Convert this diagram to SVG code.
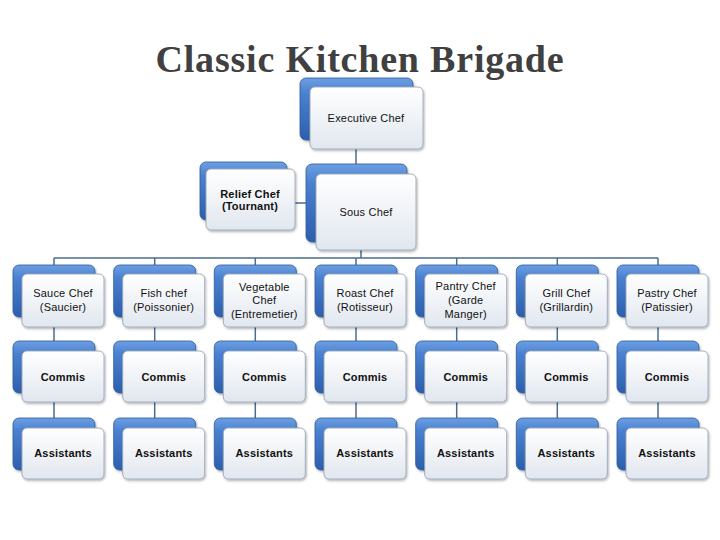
<svg xmlns="http://www.w3.org/2000/svg" width="720" height="540" viewBox="0 0 720 540">
<defs>
<linearGradient id="gBlue" x1="0" y1="0" x2="0" y2="1">
<stop offset="0" stop-color="#6c9fe2"/>
<stop offset="0.25" stop-color="#4a80d0"/>
<stop offset="1" stop-color="#2c5fac"/>
</linearGradient>
<linearGradient id="gFront" x1="0" y1="0" x2="0" y2="1">
<stop offset="0" stop-color="#ffffff"/>
<stop offset="1" stop-color="#e1e7ef"/>
</linearGradient>
<filter id="sh" x="-10%" y="-10%" width="125%" height="130%">
<feDropShadow dx="1" dy="1.5" stdDeviation="1.2" flood-color="#000" flood-opacity="0.3"/>
</filter>
<style>
.back{fill:url(#gBlue);stroke:#2e5a9a;stroke-width:0.8;filter:url(#sh)}
.front{fill:url(#gFront);stroke:#9aa7b8;stroke-width:0.9;filter:url(#sh)}
.lbl{font-family:"Liberation Sans",Arial,sans-serif;font-size:11px;fill:#111;text-anchor:middle;letter-spacing:0.2px}
.b{font-weight:bold}
.conn{stroke:#4b6d8f;stroke-width:1.5;fill:none}
.title{font-family:"Liberation Serif","Times New Roman",serif;font-size:38px;font-weight:bold;fill:#404040;text-anchor:middle;letter-spacing:0.8px}
</style>
</defs>
<text class="title" x="360" y="72">Classic Kitchen Brigade</text>
<g id="connectors">
<path class="conn" d="M356 149V164M295 203H306M361 250V258M54 258H658"/>
<path class="conn" d="M54 258V265M154.7 258V265M255.3 258V265M356 258V265M456.7 258V265M557.3 258V265M658 258V265"/>
<path class="conn" d="M54 327V341M154.7 327V341M255.3 327V341M356 327V341M456.7 327V341M557.3 327V341M658 327V341"/>
<path class="conn" d="M54 402V418M154.7 402V418M255.3 402V418M356 402V418M456.7 402V418M557.3 402V418M658 402V418"/>
</g>
<g id="executive-chef"><rect class="back" x="300" y="78" width="113" height="62" rx="6"/><rect class="front" x="310" y="87" width="113" height="62" rx="5"/><text class="lbl" x="366" y="122" letter-spacing="0.4">Executive Chef</text></g>
<g id="relief-chef"><rect class="back" x="200" y="162" width="87" height="58" rx="6"/><rect class="front" x="206" y="169" width="89" height="61" rx="5"/><text class="lbl b" x="250" y="198" font-size="9.5" letter-spacing="0">Relief Chef</text><text class="lbl b" x="250" y="210" font-size="9.5" letter-spacing="0">(Tournant)</text></g>
<g id="sous-chef"><rect class="back" x="306" y="164" width="101" height="78" rx="6"/><rect class="front" x="316" y="174" width="100" height="76" rx="5"/><text class="lbl" x="366" y="216">Sous Chef</text></g>
<g id="sauce-chef"><rect class="back" x="13" y="265" width="82" height="52" rx="6"/><rect class="front" x="22" y="274" width="82" height="53" rx="5"/><text class="lbl" x="63" y="297">Sauce Chef</text><text class="lbl" x="63" y="311">(Saucier)</text></g>
<g id="fish-chef"><rect class="back" x="113.7" y="265" width="82" height="52" rx="6"/><rect class="front" x="122.7" y="274" width="82" height="53" rx="5"/><text class="lbl" x="163.7" y="297">Fish chef</text><text class="lbl" x="163.7" y="311">(Poissonier)</text></g>
<g id="vegetable-chef"><rect class="back" x="214.3" y="265" width="82" height="52" rx="6"/><rect class="front" x="223.3" y="274" width="82" height="53" rx="5"/><text class="lbl" x="264.3" y="291">Vegetable</text><text class="lbl" x="264.3" y="304">Chef</text><text class="lbl" x="264.3" y="318">(Entremetier)</text></g>
<g id="roast-chef"><rect class="back" x="315" y="265" width="82" height="52" rx="6"/><rect class="front" x="324" y="274" width="82" height="53" rx="5"/><text class="lbl" x="365" y="297">Roast Chef</text><text class="lbl" x="365" y="311">(Rotisseur)</text></g>
<g id="pantry-chef"><rect class="back" x="415.7" y="265" width="82" height="52" rx="6"/><rect class="front" x="424.7" y="274" width="82" height="53" rx="5"/><text class="lbl" x="465.7" y="290">Pantry Chef</text><text class="lbl" x="465.7" y="304">(Garde</text><text class="lbl" x="465.7" y="318">Manger)</text></g>
<g id="grill-chef"><rect class="back" x="516.3" y="265" width="82" height="52" rx="6"/><rect class="front" x="525.3" y="274" width="82" height="53" rx="5"/><text class="lbl" x="566.3" y="297">Grill Chef</text><text class="lbl" x="566.3" y="311">(Grillardin)</text></g>
<g id="pastry-chef"><rect class="back" x="617" y="265" width="82" height="52" rx="6"/><rect class="front" x="626" y="274" width="82" height="53" rx="5"/><text class="lbl" x="667" y="297">Pastry Chef</text><text class="lbl" x="667" y="311">(Patissier)</text></g>
<g id="commis-1"><rect class="back" x="13" y="341" width="82" height="52" rx="6"/><rect class="front" x="22" y="351" width="82" height="51" rx="5"/><text class="lbl b" x="63" y="381" letter-spacing="0.5">Commis</text></g>
<g id="commis-2"><rect class="back" x="113.7" y="341" width="82" height="52" rx="6"/><rect class="front" x="122.7" y="351" width="82" height="51" rx="5"/><text class="lbl b" x="163.7" y="381" letter-spacing="0.5">Commis</text></g>
<g id="commis-3"><rect class="back" x="214.3" y="341" width="82" height="52" rx="6"/><rect class="front" x="223.3" y="351" width="82" height="51" rx="5"/><text class="lbl b" x="264.3" y="381" letter-spacing="0.5">Commis</text></g>
<g id="commis-4"><rect class="back" x="315" y="341" width="82" height="52" rx="6"/><rect class="front" x="324" y="351" width="82" height="51" rx="5"/><text class="lbl b" x="365" y="381" letter-spacing="0.5">Commis</text></g>
<g id="commis-5"><rect class="back" x="415.7" y="341" width="82" height="52" rx="6"/><rect class="front" x="424.7" y="351" width="82" height="51" rx="5"/><text class="lbl b" x="465.7" y="381" letter-spacing="0.5">Commis</text></g>
<g id="commis-6"><rect class="back" x="516.3" y="341" width="82" height="52" rx="6"/><rect class="front" x="525.3" y="351" width="82" height="51" rx="5"/><text class="lbl b" x="566.3" y="381" letter-spacing="0.5">Commis</text></g>
<g id="commis-7"><rect class="back" x="617" y="341" width="82" height="52" rx="6"/><rect class="front" x="626" y="351" width="82" height="51" rx="5"/><text class="lbl b" x="667" y="381" letter-spacing="0.5">Commis</text></g>
<g id="assistants-1"><rect class="back" x="13" y="418" width="82" height="52" rx="6"/><rect class="front" x="22" y="428" width="82" height="51" rx="5"/><text class="lbl b" x="63" y="457">Assistants</text></g>
<g id="assistants-2"><rect class="back" x="113.7" y="418" width="82" height="52" rx="6"/><rect class="front" x="122.7" y="428" width="82" height="51" rx="5"/><text class="lbl b" x="163.7" y="457">Assistants</text></g>
<g id="assistants-3"><rect class="back" x="214.3" y="418" width="82" height="52" rx="6"/><rect class="front" x="223.3" y="428" width="82" height="51" rx="5"/><text class="lbl b" x="264.3" y="457">Assistants</text></g>
<g id="assistants-4"><rect class="back" x="315" y="418" width="82" height="52" rx="6"/><rect class="front" x="324" y="428" width="82" height="51" rx="5"/><text class="lbl b" x="365" y="457">Assistants</text></g>
<g id="assistants-5"><rect class="back" x="415.7" y="418" width="82" height="52" rx="6"/><rect class="front" x="424.7" y="428" width="82" height="51" rx="5"/><text class="lbl b" x="465.7" y="457">Assistants</text></g>
<g id="assistants-6"><rect class="back" x="516.3" y="418" width="82" height="52" rx="6"/><rect class="front" x="525.3" y="428" width="82" height="51" rx="5"/><text class="lbl b" x="566.3" y="457">Assistants</text></g>
<g id="assistants-7"><rect class="back" x="617" y="418" width="82" height="52" rx="6"/><rect class="front" x="626" y="428" width="82" height="51" rx="5"/><text class="lbl b" x="667" y="457">Assistants</text></g>
</svg>
